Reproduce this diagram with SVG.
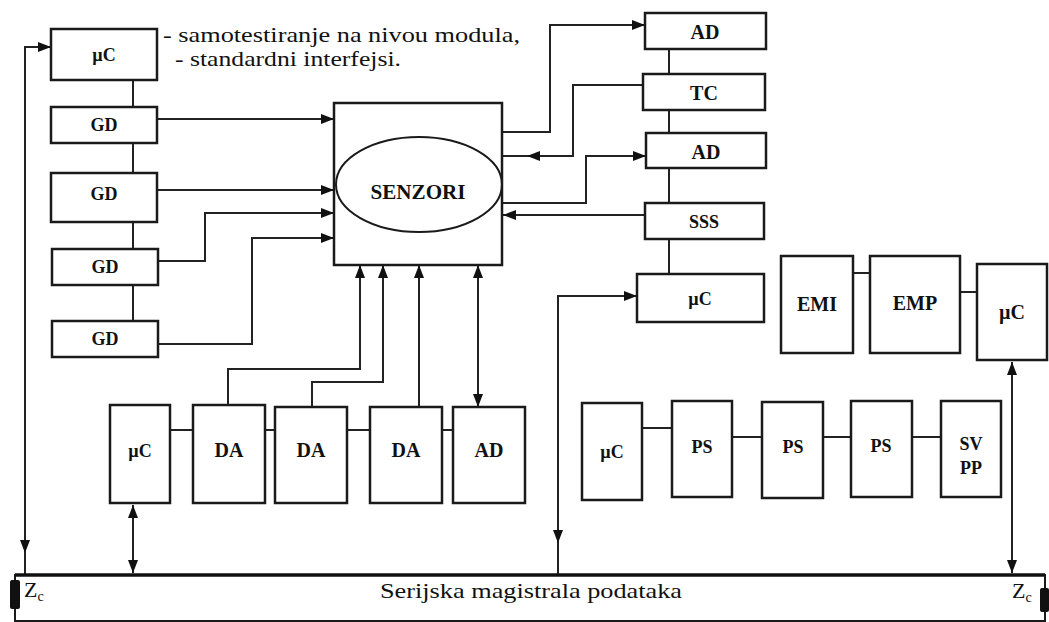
<svg xmlns="http://www.w3.org/2000/svg" width="1049" height="622" viewBox="0 0 1049 622">
  <style>
    .box { fill: #ffffff; stroke: #1a1a1a; stroke-width: 2.5; }
    .wire { fill: none; stroke: #222222; stroke-width: 2; }
    .arr { fill: none; stroke: #222222; stroke-width: 2; marker-end: url(#ah); }
    .arr2 { fill: none; stroke: #222222; stroke-width: 2; marker-start: url(#ah); marker-end: url(#ah); }
    .lbl { font-family: "Liberation Serif", "Times New Roman", serif; font-weight: bold; fill: #111111; text-anchor: middle; dominant-baseline: central; }
    .s18 { font-size: 18px; }
    .s20 { font-size: 20px; }
    .note { font-family: "Liberation Serif", "Times New Roman", serif; font-size: 22px; fill: #111111; }
  </style>
  <defs>
    <marker id="ah" markerUnits="userSpaceOnUse" markerWidth="13" markerHeight="10" refX="13" refY="5" orient="auto-start-reverse">
      <path d="M0,0 L13,5 L0,10 z" fill="#111111"/>
    </marker>
  </defs>

  <rect width="1049" height="622" fill="#ffffff"/>

  <!-- connectors -->
  <g id="connectors">
    <!-- left column chain -->
    <line class="wire" x1="133" y1="80" x2="133" y2="107"/>
    <line class="wire" x1="133" y1="143" x2="133" y2="173"/>
    <line class="wire" x1="133" y1="222" x2="133" y2="249"/>
    <line class="wire" x1="133" y1="285" x2="133" y2="321"/>
    <!-- GD outputs into sensor block -->
    <path class="arr" d="M157,119 H334"/>
    <path class="arr" d="M157,190 H334"/>
    <path class="arr" d="M158,261 H205 V213 H334"/>
    <path class="arr" d="M158,344 H252 V238 H334"/>
    <!-- right column chain -->
    <line class="wire" x1="669" y1="49" x2="669" y2="74"/>
    <line class="wire" x1="669" y1="110" x2="669" y2="133"/>
    <line class="wire" x1="669" y1="168" x2="669" y2="203"/>
    <line class="wire" x1="669" y1="239" x2="669" y2="274"/>
    <!-- sensor block to/from right column -->
    <path class="arr" d="M502,132 H550 V25 H645"/>
    <path class="arr" d="M643,85 H573 V156 H527"/>
    <line class="wire" x1="527" y1="156" x2="502" y2="156"/>
    <path class="arr" d="M502,203 H586 V156 H646"/>
    <path class="arr" d="M645,215 H503"/>
    <!-- bottom-left row into sensor block -->
    <path class="arr" d="M228,405 V369 H360 V265"/>
    <path class="arr" d="M312,407 V382 H383 V265"/>
    <path class="arr" d="M419,407 V265"/>
    <path class="arr2" d="M478,265 V407"/>
    <!-- bottom-left row links -->
    <line class="wire" x1="170" y1="430" x2="193" y2="430"/>
    <line class="wire" x1="265" y1="430" x2="275" y2="430"/>
    <line class="wire" x1="347" y1="430" x2="370" y2="430"/>
    <line class="wire" x1="442" y1="430" x2="453" y2="430"/>
    <!-- bottom-right row links -->
    <line class="wire" x1="642" y1="428" x2="672" y2="428"/>
    <line class="wire" x1="732" y1="437" x2="762" y2="437"/>
    <line class="wire" x1="823" y1="437" x2="851" y2="437"/>
    <line class="wire" x1="912" y1="437" x2="941" y2="437"/>
    <!-- EMI / EMP / µC links -->
    <line class="wire" x1="853" y1="273" x2="870" y2="273"/>
    <line class="wire" x1="960" y1="292" x2="977" y2="292"/>
    <!-- bus links -->
    <path class="arr2" d="M25,553 V47 H51"/>
    <line class="wire" x1="25" y1="553" x2="25" y2="575"/>
    <path class="arr2" d="M558,543 V296 H637"/>
    <line class="wire" x1="558" y1="543" x2="558" y2="575"/>
    <path class="arr2" d="M133,505 V573"/>
    <path class="arr2" d="M1012,362 V573"/>
  </g>

  <!-- left column -->
  <g id="uc-top"><rect class="box" x="51" y="29" width="106" height="51"/><text class="lbl s18" x="104" y="55">µC</text></g>
  <g id="gd1"><rect class="box" x="51" y="107" width="106" height="36"/><text class="lbl s18" x="104" y="125">GD</text></g>
  <g id="gd2"><rect class="box" x="51" y="173" width="106" height="49"/><text class="lbl s18" x="104" y="194">GD</text></g>
  <g id="gd3"><rect class="box" x="52" y="249" width="106" height="36"/><text class="lbl s18" x="105" y="267">GD</text></g>
  <g id="gd4"><rect class="box" x="52" y="321" width="106" height="36"/><text class="lbl s18" x="105" y="339">GD</text></g>

  <!-- notes -->
  <g id="notes">
    <text class="note" x="163" y="42" textLength="357" lengthAdjust="spacingAndGlyphs">- samotestiranje na nivou modula,</text>
    <text class="note" x="175" y="66" textLength="226" lengthAdjust="spacingAndGlyphs">- standardni interfejsi.</text>
  </g>

  <!-- sensor block -->
  <g id="senzori">
    <rect class="box" x="334" y="103" width="168" height="162"/>
    <ellipse cx="419" cy="184.5" rx="83" ry="47.5" fill="none" stroke="#1a1a1a" stroke-width="2"/>
    <text class="lbl s20" x="418" y="192" textLength="95" lengthAdjust="spacingAndGlyphs">SENZORI</text>
  </g>

  <!-- right column -->
  <g id="ad1"><rect class="box" x="645" y="13" width="121" height="36"/><text class="lbl s20" x="705" y="32">AD</text></g>
  <g id="tc"><rect class="box" x="643" y="74" width="122" height="36"/><text class="lbl s20" x="704" y="93">TC</text></g>
  <g id="ad2"><rect class="box" x="646" y="133" width="120" height="35"/><text class="lbl s20" x="706" y="152">AD</text></g>
  <g id="sss"><rect class="box" x="645" y="203" width="119" height="36"/><text class="lbl s18" x="704" y="222">SSS</text></g>
  <g id="uc-mid"><rect class="box" x="637" y="274" width="127" height="48"/><text class="lbl s18" x="700" y="299">µC</text></g>

  <!-- EMI / EMP / µC -->
  <g id="emi"><rect class="box" x="781" y="256" width="72" height="97"/><text class="lbl s20" x="817" y="304">EMI</text></g>
  <g id="emp"><rect class="box" x="870" y="256" width="90" height="97"/><text class="lbl s20" x="915" y="303">EMP</text></g>
  <g id="uc-right"><rect class="box" x="977" y="264" width="70" height="96"/><text class="lbl s20" x="1012" y="312">µC</text></g>

  <!-- bottom-left row -->
  <g id="uc-bl"><rect class="box" x="110" y="405" width="60" height="98"/><text class="lbl s18" x="140" y="451">µC</text></g>
  <g id="da1"><rect class="box" x="193" y="405" width="72" height="98"/><text class="lbl s20" x="229" y="450">DA</text></g>
  <g id="da2"><rect class="box" x="275" y="407" width="72" height="96"/><text class="lbl s20" x="311" y="450">DA</text></g>
  <g id="da3"><rect class="box" x="370" y="407" width="72" height="96"/><text class="lbl s20" x="406" y="450">DA</text></g>
  <g id="ad-bl"><rect class="box" x="453" y="407" width="72" height="96"/><text class="lbl s20" x="489" y="450">AD</text></g>

  <!-- bottom-right row -->
  <g id="uc-br"><rect class="box" x="582" y="403" width="60" height="97"/><text class="lbl s18" x="612" y="452">µC</text></g>
  <g id="ps1"><rect class="box" x="672" y="401" width="60" height="96"/><text class="lbl s18" x="702" y="447">PS</text></g>
  <g id="ps2"><rect class="box" x="762" y="402" width="61" height="96"/><text class="lbl s18" x="793" y="447">PS</text></g>
  <g id="ps3"><rect class="box" x="851" y="401" width="61" height="96"/><text class="lbl s18" x="881" y="446">PS</text></g>
  <g id="svpp"><rect class="box" x="941" y="401" width="60" height="96"/><text class="lbl s18" x="971" y="444">SV</text><text class="lbl s18" x="971" y="468">PP</text></g>

  <!-- serial data bus -->
  <g id="bus">
    <rect x="15" y="575" width="1030" height="46" fill="#ffffff" stroke="#1a1a1a" stroke-width="2"/>
    <line x1="15" y1="575" x2="1045" y2="575" stroke="#111111" stroke-width="3.5"/>
    <rect x="10" y="580" width="10" height="29" rx="2" fill="#111111"/>
    <rect x="1040" y="588" width="9" height="24" rx="2" fill="#111111"/>
    <text class="note" x="24" y="597">Z<tspan font-size="14" dy="4">c</tspan></text>
    <text class="note" x="1012" y="598">Z<tspan font-size="14" dy="4">c</tspan></text>
    <text class="note" x="380" y="598" textLength="302" lengthAdjust="spacingAndGlyphs">Serijska magistrala podataka</text>
  </g>
</svg>
